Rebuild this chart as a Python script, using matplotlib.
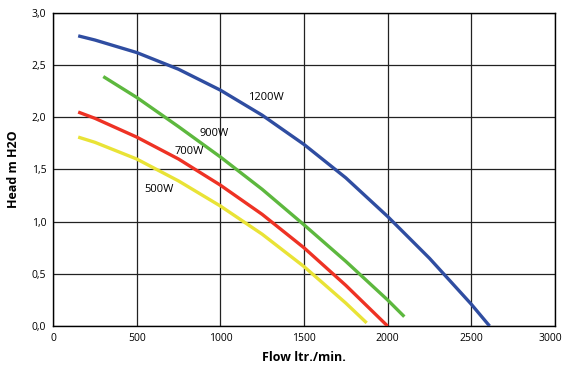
import matplotlib
matplotlib.use("Agg")
import matplotlib.pyplot as plt
from matplotlib.transforms import ScaledTranslation

# pump curves (flow ltr./min, head m H2O)
flow_1200 = [150, 250, 500, 750, 1000, 1250, 1500, 1750, 2000, 2250, 2500, 2610]
head_1200 = [2.78, 2.74, 2.62, 2.46, 2.26, 2.02, 1.74, 1.42, 1.05, 0.65, 0.21, 0.0]

flow_900 = [300, 500, 750, 1000, 1250, 1500, 1750, 2000, 2100]
head_900 = [2.39, 2.19, 1.91, 1.62, 1.31, 0.97, 0.62, 0.25, 0.09]

flow_700 = [150, 250, 500, 750, 1000, 1250, 1500, 1750, 2000]
head_700 = [2.05, 1.99, 1.81, 1.60, 1.35, 1.07, 0.75, 0.39, 0.0]

flow_500 = [150, 250, 500, 750, 1000, 1250, 1500, 1750, 1875]
head_500 = [1.81, 1.76, 1.60, 1.39, 1.15, 0.88, 0.57, 0.22, 0.03]

series_labels = ["1200W", "900W", "700W", "500W"]
label_pos = [(1275, 2.19), (962, 1.845), (816, 1.67), (634, 1.31)]
colors = ["#2f4da1", "#5db83e", "#ee3224", "#e9e336"]

x_ticks = [0, 500, 1000, 1500, 2000, 2500, 3000]
y_ticks = [0.0, 0.5, 1.0, 1.5, 2.0, 2.5, 3.0]

plt.rcParams["font.family"] = ["Open Sans", "DejaVu Sans"]

fig = plt.figure(figsize=(5.65, 3.68), dpi=100)
ax = fig.add_axes([0.094, 0.114, 0.888, 0.851])

for fl, hd, c in zip([flow_1200, flow_900, flow_700, flow_500],
                     [head_1200, head_900, head_700, head_500], colors):
    ax.plot(fl, hd, color=c, linewidth=2.4, solid_capstyle="butt",
            solid_joinstyle="round", zorder=3)

for lab, (x, y) in zip(series_labels, label_pos):
    ax.text(x, y, lab, fontsize=8, ha="center", va="center", zorder=4)

ax.set_xlim(0, 3000)
ax.set_ylim(0, 3.0)
ax.set_xticks(x_ticks)
ax.set_yticks(y_ticks)
ax.set_xticklabels([str(t) for t in x_ticks])
ax.set_yticklabels([f"{t:.1f}".replace(".", ",") for t in y_ticks])
ax.tick_params(length=0, labelsize=7.5, pad=5)
ax.grid(True, color="#222222", linewidth=0.9, zorder=1)
ax.set_axisbelow(True)
for spine in ax.spines.values():
    spine.set_edgecolor("black")
    spine.set_linewidth(1.0)

# nudge the last x label in so it stays inside the picture
last = ax.get_xticklabels()[-1]
last.set_transform(last.get_transform() + ScaledTranslation(-3 / 72, 0, fig.dpi_scale_trans))

ax.set_xlabel("Flow ltr./min.", fontsize=9, fontweight="bold", labelpad=5)
ax.set_ylabel("Head m H2O", fontsize=9, fontweight="bold", labelpad=8)

fig.savefig("out.png", dpi=100)
